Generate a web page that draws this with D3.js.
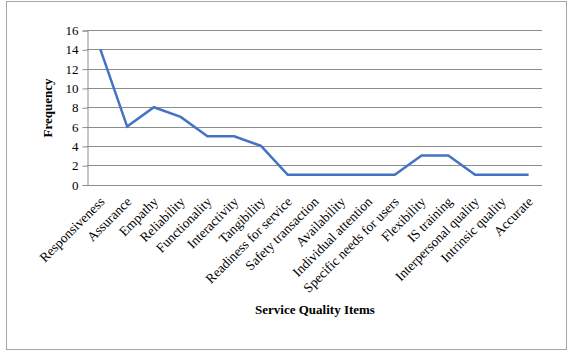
<!DOCTYPE html>
<html><head><meta charset="utf-8">
<script src="https://cdn.jsdelivr.net/npm/d3@7"></script>
<style>body{margin:0;background:#fff}svg{display:block}</style>
</head><body>
<script>
const categories = ["Responsiveness","Assurance","Empathy","Reliability","Functionality","Interactivity","Tangibility","Readiness for service","Safety transaction","Availability","Individual attention","Specific needs for users","Flexibility","IS training","Interpersonal quality","Intrinsic quality","Accurate"];
const values = [14,6,8,7,5,5,4,1,1,1,1,1,3,3,1,1,1];
const yTicks = [0,2,4,6,8,10,12,14,16];

const W=568,H=351;
const svg=d3.select("body").append("svg").attr("width",W).attr("height",H);
svg.append("rect").attr("x",6.5).attr("y",1.5).attr("width",560).attr("height",348)
  .attr("fill","#fff").attr("stroke","#a6a6a6").attr("stroke-width",1);

const m={l:87,r:542,t:30,b:184.5};
const x=d3.scaleBand().domain(categories).range([m.l,m.r]);
const y=d3.scaleLinear().domain([0,16]).range([m.b,m.t]);
const font="'Liberation Serif','Times New Roman',serif";

// gridlines
svg.append("g").selectAll("line").data(yTicks).join("line")
  .attr("x1",m.l).attr("x2",m.r).attr("y1",d=>Math.round(y(d))+0.5).attr("y2",d=>Math.round(y(d))+0.5)
  .attr("stroke","#8c8c8c").attr("stroke-width",1);

// y axis
const ya=svg.append("g").attr("transform",`translate(${m.l+0.5},0.5)`)
  .call(d3.axisLeft(y).tickValues(yTicks).tickSize(5).tickPadding(4));
ya.select(".domain").attr("stroke","#8c8c8c");
ya.selectAll(".tick line").attr("stroke","#8c8c8c");
ya.selectAll("text").attr("font-family",font).attr("font-size",13).attr("fill","#000");

// x labels
svg.append("g").selectAll("text").data(categories).join("text")
  .attr("transform",d=>`translate(${x(d)+x.bandwidth()/2+5},${m.b+18}) rotate(-45)`)
  .attr("text-anchor","end").attr("font-family",font).attr("font-size",13.5).attr("fill","#000")
  .text(d=>d);

// line
const line=d3.line().x((d,i)=>x(categories[i])+x.bandwidth()/2).y(d=>y(d));
svg.append("path").datum(values).attr("d",line).attr("fill","none")
  .attr("stroke","#4472c4").attr("stroke-width",2.5).attr("stroke-linejoin","miter");

// titles
svg.append("text").attr("transform",`translate(52,108) rotate(-90)`).attr("text-anchor","middle")
  .attr("font-family",font).attr("font-weight","bold").attr("font-size",13).text("Frequency");
svg.append("text").attr("x",315).attr("y",314).attr("text-anchor","middle")
  .attr("font-family",font).attr("font-weight","bold").attr("font-size",13).text("Service Quality Items");
</script>
</body></html>
